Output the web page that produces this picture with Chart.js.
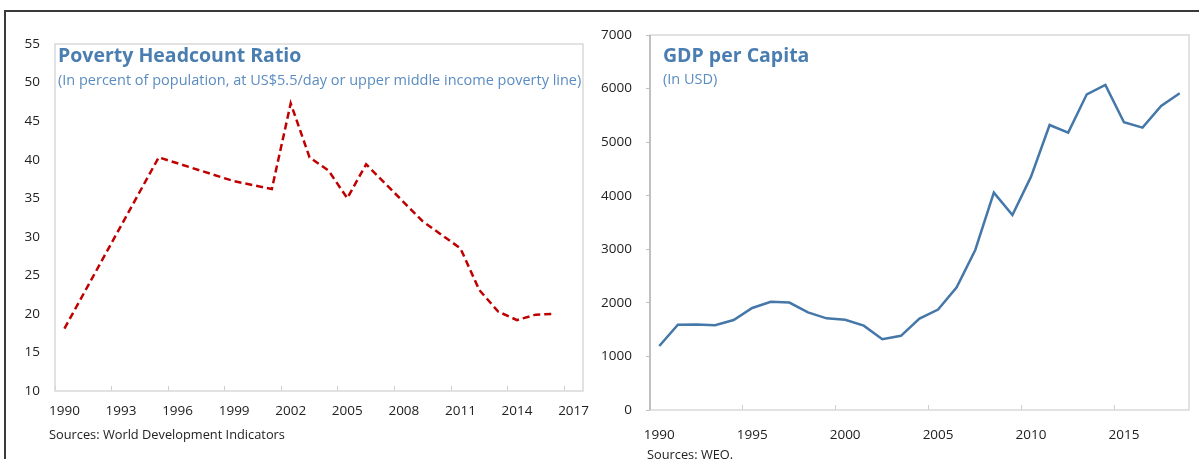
<!DOCTYPE html>
<html>
<head>
<meta charset="utf-8">
<script src="https://cdn.jsdelivr.net/npm/chart.js@4.4.1/dist/chart.umd.min.js"></script>
<style>
  body { margin: 0; background: #fff; width: 1199px; height: 459px; overflow: hidden; position: relative; font-family: "Open Sans", sans-serif; }
  .frame { position: absolute; left: 4px; top: 10px; right: 0; bottom: -5px; border-top: 2px solid #3a3a3a; border-left: 2px solid #3a3a3a; }
  .box { position: absolute; top: 0; height: 459px; }
  .title { position: absolute; color: #4a7db0; font-weight: 700; font-size: 19.5px; white-space: nowrap; line-height: 22px; }
  .sub { position: absolute; color: #5b8cc0; font-size: 14.5px; white-space: nowrap; line-height: 18px; }
  .src { position: absolute; color: #222; font-size: 12.8px; white-space: nowrap; line-height: 16px; }
</style>
</head>
<body>
<div class="frame"></div>
<div class="box" style="left:0;width:600px"><canvas id="povertyChart"></canvas></div>
<div class="box" style="left:600px;width:599px"><canvas id="gdpChart"></canvas></div>

<div class="title" style="left:58px;top:44px">Poverty Headcount Ratio</div>
<div class="sub" style="left:58px;top:71px">(In percent of population, at US$5.5/day or upper middle income poverty line)</div>
<div class="src" style="left:49px;top:426px">Sources: World Development Indicators</div>

<div class="title" style="left:663px;top:44px">GDP per Capita</div>
<div class="sub" style="left:663px;top:70px">(In USD)</div>
<div class="src" style="left:647px;top:446px">Sources: WEO.</div>

<script>
// Poverty headcount ratio, % (gaps = no observation, line spans them)
const povertyYears = ['1990','1991','1992','1993','1994','1995','1996','1997','1998','1999',
                      '2000','2001','2002','2003','2004','2005','2006','2007','2008','2009',
                      '2010','2011','2012','2013','2014','2015','2016','2017'];
const povertyValues = [18.1, null, null, null, null, 40.3, null, null, null, 37.2,
                       null, 36.2, 47.3, 40.3, 38.6, 35.0, 39.4, null, null, 32.0,
                       null, 28.5, 23.1, 20.3, 19.2, 19.9, 20.0, null];

// GDP per capita, USD
const gdpYears = ['1990','1991','1992','1993','1994','1995','1996','1997','1998','1999',
                  '2000','2001','2002','2003','2004','2005','2006','2007','2008','2009',
                  '2010','2011','2012','2013','2014','2015','2016','2017','2018'];
const gdpValues = [1195, 1593, 1595, 1581, 1680, 1905, 2020, 2005, 1823, 1711,
                   1685, 1574, 1320, 1385, 1705, 1875, 2290, 2987, 4057, 3640,
                   4356, 5320, 5177, 5893, 6067, 5370, 5270, 5675, 5912];

const tickFont = { family: '"Open Sans", sans-serif', size: 13.5 };

// light grey frame round the plot area, darker edges where asked
const plotBox = {
    id: 'plotBox',
    beforeDatasetsDraw(chart, args, opts) {
        const a = chart.chartArea;
        const c = chart.ctx;
        c.save();
        c.lineWidth = 1.5;
        c.strokeStyle = opts.color || '#d9d9d9';
        c.strokeRect(a.left, a.top, a.right - a.left, a.bottom - a.top);
        if (opts.axisColor) {
            c.strokeStyle = opts.axisColor;
            c.beginPath();
            c.moveTo(a.left, a.top);
            c.lineTo(a.left, a.bottom);
            c.stroke();
        }
        c.restore();
    }
};

function makeChart(id, labels, values, cfg) {
    return new Chart(document.getElementById(id), {
        type: 'line',
        data: {
            labels: labels,
            datasets: [{
                data: values,
                borderColor: cfg.color,
                borderWidth: cfg.width,
                borderDash: cfg.dash || [],
                pointRadius: 0,
                tension: 0,
                spanGaps: true,
                fill: false
            }]
        },
        options: {
            animation: false,
            responsive: true,
            maintainAspectRatio: false,
            layout: { padding: cfg.padding },
            plugins: {
                legend: { display: false },
                tooltip: { enabled: false },
                plotBox: { color: '#d9d9d9', axisColor: cfg.axisColor }
            },
            scales: {
                x: {
                    offset: true,
                    border: { display: false },
                    grid: {
                        offset: true,
                        drawOnChartArea: false,
                        drawTicks: true,
                        tickLength: -5,
                        tickColor: ctx => (ctx.index % cfg.every === 0 ? '#cfcfcf' : 'rgba(0,0,0,0)')
                    },
                    ticks: {
                        autoSkip: false,
                        maxRotation: 0,
                        padding: cfg.xPad,
                        color: '#222',
                        font: tickFont,
                        callback: function (v, i) { return i % cfg.every === 0 ? this.getLabelForValue(v) : ''; }
                    },
                    afterFit: s => {
                        s.height = 30;
                        // keep the plot edges where the layout padding puts them
                        s.paddingLeft = 0;
                        s.paddingRight = 0;
                    }
                },
                y: {
                    min: cfg.min,
                    max: cfg.max,
                    border: { display: false },
                    grid: {
                        drawOnChartArea: false,
                        drawTicks: cfg.yTicks,
                        tickLength: 4,
                        tickColor: '#bfbfbf'
                    },
                    ticks: {
                        stepSize: cfg.step,
                        padding: cfg.yPad,
                        color: '#222',
                        font: tickFont,
                        callback: v => String(v)
                    },
                    afterFit: s => {
                        s.width = cfg.yWidth;
                        s.paddingTop = 0;
                        s.paddingBottom = 0;
                    }
                }
            }
        },
        plugins: [plotBox]
    });
}

window.onload = () => {
    makeChart('povertyChart', povertyYears, povertyValues, {
        color: '#c00000', width: 2.5, dash: [7, 4],
        min: 10, max: 55, step: 5,
        every: 3, xPad: 17, yPad: 15, yTicks: false, yWidth: 55,
        padding: { left: 0, right: 17, top: 44, bottom: 38 }
    });
    makeChart('gdpChart', gdpYears, gdpValues, {
        color: '#4577a8', width: 2.5,
        min: 0, max: 7000, step: 1000,
        every: 5, xPad: 22, yPad: 14, yTicks: true, yWidth: 50,
        axisColor: '#b5b5b5',
        padding: { left: 0, right: 10, top: 35, bottom: 19 }
    });
};
</script>
</body>
</html>
